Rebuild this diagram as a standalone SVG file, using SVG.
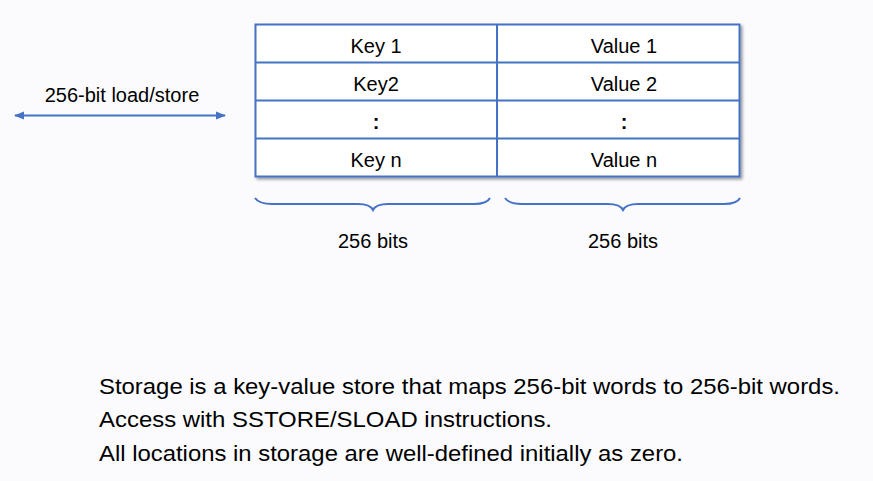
<svg xmlns="http://www.w3.org/2000/svg" width="873" height="481" viewBox="0 0 873 481">
<defs>
<style>
.t{font-family:"Liberation Sans",Arial,sans-serif;font-size:20px;fill:#000;text-anchor:middle}
.c{font-weight:bold}
.b{font-family:"Liberation Sans",Arial,sans-serif;font-size:22px;fill:#000}
.ln{stroke:#4472C4;stroke-width:2;fill:none}
</style>
<marker id="ah" viewBox="0 0 10 10" refX="9" refY="5" markerWidth="5" markerHeight="5" orient="auto-start-reverse">
<path d="M0,1 L10,5 L0,9 z" fill="#4472C4"/>
</marker>
<filter id="sh" x="-5%" y="-5%" width="110%" height="120%">
<feGaussianBlur in="SourceAlpha" stdDeviation="1.5"/>
<feOffset dx="2" dy="2" result="o"/>
<feComponentTransfer><feFuncA type="linear" slope="0.4"/></feComponentTransfer>
<feMerge><feMergeNode/><feMergeNode in="SourceGraphic"/></feMerge>
</filter>
</defs>
<rect width="873" height="481" fill="#FBFBFE"/>
<g id="table">
<rect x="255.5" y="24.5" width="484" height="152" fill="#FFFFFF" stroke="#4472C4" stroke-width="2" filter="url(#sh)"/>
<line class="ln" x1="255.5" y1="62.5" x2="739.5" y2="62.5"/>
<line class="ln" x1="255.5" y1="100.5" x2="739.5" y2="100.5"/>
<line class="ln" x1="255.5" y1="138.5" x2="739.5" y2="138.5"/>
<line class="ln" x1="497" y1="24.5" x2="497" y2="176.5"/>
<text class="t" x="376" y="53">Key 1</text>
<text class="t" x="624" y="53">Value 1</text>
<text class="t" x="376" y="91">Key2</text>
<text class="t" x="624" y="91">Value 2</text>
<text class="t c" x="376" y="129">:</text>
<text class="t c" x="624" y="129">:</text>
<text class="t" x="376" y="167">Key n</text>
<text class="t" x="624" y="167">Value n</text>
</g>
<g id="connectors">
<line class="ln" x1="15" y1="115.5" x2="225" y2="115.5" marker-start="url(#ah)" marker-end="url(#ah)"/>
<path class="ln" d="M255,198 Q259,204 272,204 L358,204 Q370,204 373,210 Q376,204 388,204 L474,204 Q487,204 490,198"/>
<path class="ln" d="M505,198 Q509,204 522,204 L608,204 Q620,204 623,210 Q626,204 638,204 L724,204 Q737,204 740,198"/>
</g>
<g id="labels">
<text class="t" x="122" y="102">256-bit load/store</text>
<text class="t" x="373" y="248">256 bits</text>
<text class="t" x="623" y="248">256 bits</text>
<text class="b" x="99" y="394" textLength="741" lengthAdjust="spacingAndGlyphs">Storage is a key-value store that maps 256-bit words to 256-bit words.</text>
<text class="b" x="99" y="427" textLength="453" lengthAdjust="spacingAndGlyphs">Access with SSTORE/SLOAD instructions.</text>
<text class="b" x="99" y="461" textLength="584" lengthAdjust="spacingAndGlyphs">All locations in storage are well-defined initially as zero.</text>
</g>
</svg>
